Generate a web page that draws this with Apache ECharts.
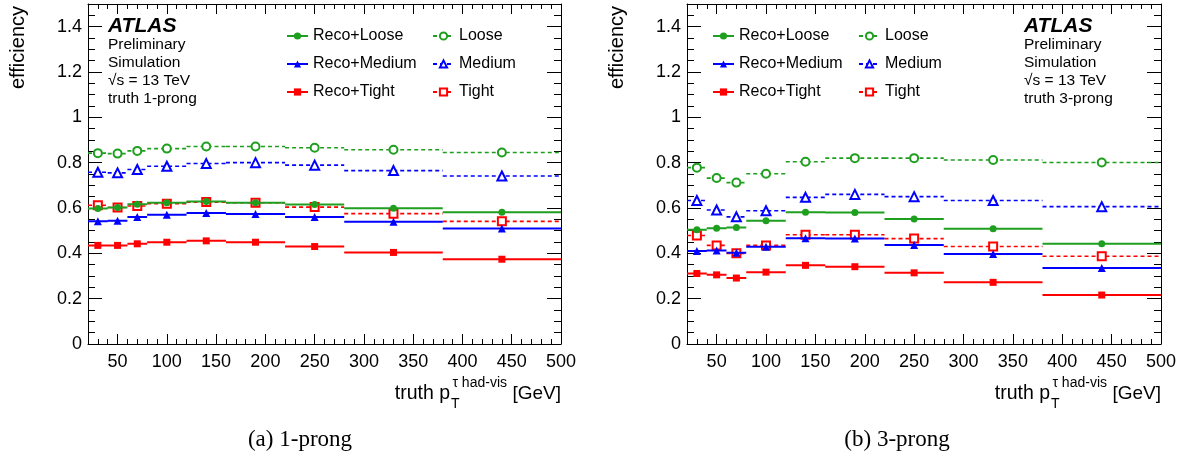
<!DOCTYPE html>
<html>
<head>
<meta charset="utf-8">
<script src="https://cdn.jsdelivr.net/npm/echarts@6/dist/echarts.min.js"></script>
<style>
  html, body { margin: 0; padding: 0; background: #fff; }
  #chart { width: 1191px; height: 461px; }
</style>
</head>
<body>
<div id="chart"></div>
<script>
// Truth visible pT bins of the hadronic tau [GeV]
const binEdges = [20, 40, 60, 80, 120, 160, 220, 280, 380, 500];

// Axis ticks
const xMajorTicks = [50, 100, 150, 200, 250, 300, 350, 400, 450, 500];
const xMinorTicks = [30, 40, 60, 70, 80, 90, 110, 120, 130, 140, 160, 170, 180, 190,
  210, 220, 230, 240, 260, 270, 280, 290, 310, 320, 330, 340, 360, 370, 380, 390,
  410, 420, 430, 440, 460, 470, 480, 490];
const yMajorTicks = [0, 0.2, 0.4, 0.6, 0.8, 1, 1.2, 1.4];
const yMinorTicks = [0.05, 0.1, 0.15, 0.25, 0.3, 0.35, 0.45, 0.5, 0.55, 0.65, 0.7, 0.75,
  0.85, 0.9, 0.95, 1.05, 1.1, 1.15, 1.25, 1.3, 1.35, 1.45];

// Efficiencies, truth 1-prong
const p1RecoLoose  = [0.598, 0.602, 0.616, 0.623, 0.629, 0.623, 0.615, 0.599, 0.581];
const p1RecoMedium = [0.541, 0.544, 0.560, 0.570, 0.578, 0.574, 0.560, 0.539, 0.510];
const p1RecoTight  = [0.435, 0.435, 0.442, 0.449, 0.455, 0.449, 0.430, 0.404, 0.374];
const p1Loose      = [0.842, 0.840, 0.852, 0.862, 0.871, 0.871, 0.866, 0.857, 0.845];
const p1Medium     = [0.758, 0.755, 0.770, 0.784, 0.796, 0.800, 0.789, 0.765, 0.741];
const p1Tight      = [0.612, 0.602, 0.609, 0.619, 0.626, 0.623, 0.604, 0.575, 0.541];

// Efficiencies, truth 3-prong
const p3RecoLoose  = [0.504, 0.511, 0.514, 0.544, 0.581, 0.580, 0.551, 0.509, 0.442];
const p3RecoMedium = [0.410, 0.413, 0.403, 0.429, 0.466, 0.465, 0.437, 0.397, 0.335];
const p3RecoTight  = [0.311, 0.305, 0.291, 0.317, 0.347, 0.341, 0.314, 0.272, 0.216];
const p3Loose      = [0.778, 0.732, 0.712, 0.751, 0.804, 0.820, 0.820, 0.812, 0.801];
const p3Medium     = [0.633, 0.591, 0.561, 0.588, 0.647, 0.660, 0.650, 0.633, 0.606];
const p3Tight      = [0.479, 0.435, 0.400, 0.435, 0.482, 0.482, 0.465, 0.430, 0.387];

const FONT = 'Liberation Sans';
const GREEN = '#1f9f1f';
const BLUE = '#0000ff';
const RED = '#ff0000';

const panels = [
  { left: 88, width: 473, label: 'truth 1-prong', textX: 108, caption: '(a) 1-prong', captionX: 300,
    data: [p1RecoLoose, p1RecoMedium, p1RecoTight, p1Loose, p1Medium, p1Tight] },
  { left: 687, width: 474, label: 'truth 3-prong', textX: 1024, caption: '(b) 3-prong', captionX: 897,
    data: [p3RecoLoose, p3RecoMedium, p3RecoTight, p3Loose, p3Medium, p3Tight] }
];
const GRID_TOP = 4, GRID_H = 340;

// Horizontal bar per bin with the marker at the bin centre; bins are not joined.
function binnedPoints(vals) {
  const pts = [];
  vals.forEach((v, i) => {
    const lo = binEdges[i], hi = binEdges[i + 1];
    pts.push({ value: [lo, v], symbol: 'none' });
    pts.push({ value: [(lo + hi) / 2, v] });
    pts.push({ value: [hi, v], symbol: 'none' });
    pts.push({ value: [hi, '-'], symbol: 'none' });
  });
  return pts;
}

const styles = [
  { name: 'Reco+Loose',  color: GREEN, symbol: 'circle',        size: 7,  dashed: false },
  { name: 'Reco+Medium', color: BLUE,  symbol: 'triangle',      size: 8,  dashed: false },
  { name: 'Reco+Tight',  color: RED,   symbol: 'rect',          size: 7,  dashed: false },
  { name: 'Loose',       color: GREEN, symbol: 'emptyCircle',   size: 8,  dashed: true },
  { name: 'Medium',      color: BLUE,  symbol: 'emptyTriangle', size: 9,  dashed: true },
  { name: 'Tight',       color: RED,   symbol: 'emptyRect',     size: 8,  dashed: true }
];

const grid = [], xAxis = [], yAxis = [], series = [], legend = [], graphic = [];

function tickAxis(kind, gi, position, values, len, main, labels) {
  return {
    type: 'value', gridIndex: gi, position: position,
    min: kind === 'x' ? 20 : 0, max: kind === 'x' ? 500 : 1.5,
    splitLine: { show: false },
    axisLine: { show: main, onZero: false, lineStyle: { color: '#000', width: 1 } },
    axisTick: { show: true, inside: true, length: len, customValues: values,
      lineStyle: { color: '#000', width: 1 } },
    axisLabel: labels ? {
      show: true, customValues: values, fontFamily: FONT, fontSize: 18, color: '#000',
      margin: kind === 'x' ? 9 : 6
    } : { show: false },
    silent: true
  };
}

panels.forEach((p, gi) => {
  grid.push({ left: p.left, top: GRID_TOP, width: p.width, height: GRID_H });

  const xb = xAxis.length, yb = yAxis.length;
  xAxis.push(tickAxis('x', gi, 'bottom', xMajorTicks, 10, true, true));
  xAxis.push(tickAxis('x', gi, 'bottom', xMinorTicks, 5, false, false));
  xAxis.push(tickAxis('x', gi, 'top', xMajorTicks, 10, true, false));
  xAxis.push(tickAxis('x', gi, 'top', xMinorTicks, 5, false, false));
  yAxis.push(tickAxis('y', gi, 'left', yMajorTicks, 14, true, true));
  yAxis.push(tickAxis('y', gi, 'left', yMinorTicks, 7, false, false));
  yAxis.push(tickAxis('y', gi, 'right', yMajorTicks, 14, true, false));
  yAxis.push(tickAxis('y', gi, 'right', yMinorTicks, 7, false, false));

  styles.forEach((s, k) => {
    series.push({
      type: 'line', name: s.name, xAxisIndex: xb, yAxisIndex: yb,
      data: binnedPoints(p.data[k]),
      symbol: s.symbol, symbolSize: s.size, showSymbol: true, connectNulls: false,
      lineStyle: { color: s.color, width: s.dashed ? 1.6 : 2, type: s.dashed ? [4, 3] : 'solid' },
      itemStyle: { color: s.color, borderWidth: 1.3 },
      emphasis: { disabled: true }, animation: false, z: 10 - k
    });
  });
});

// Legends: two columns per panel
const legendCols = [
  { left: 286, names: ['Reco+Loose', 'Reco+Medium', 'Reco+Tight'] },
  { left: 432, names: ['Loose', 'Medium', 'Tight'] },
  { left: 712, names: ['Reco+Loose', 'Reco+Medium', 'Reco+Tight'] },
  { left: 858, names: ['Loose', 'Medium', 'Tight'] }
];
legendCols.forEach(c => legend.push({
  left: c.left, top: 28, orient: 'vertical', padding: 0,
  data: c.names, itemWidth: 21, itemHeight: 9, itemGap: 12,
  selectedMode: false,
  textStyle: { fontFamily: FONT, fontSize: 16, color: '#000' }
}));

// ATLAS labels, axis titles, captions
function txt(x, y, text, size, style, rotation) {
  return {
    type: 'text', x: x, y: y, silent: true, rotation: rotation || 0,
    style: Object.assign({ text: text, fontFamily: FONT, fontSize: size, fill: '#000',
      textAlign: 'left', textVerticalAlign: 'middle' }, style || {})
  };
}

panels.forEach(p => {
  const tx = p.textX;
  graphic.push(txt(tx, 26, 'ATLAS', 21, { fontWeight: 'bold', fontStyle: 'italic' }));
  graphic.push(txt(tx, 45, 'Preliminary', 15.5));
  graphic.push(txt(tx, 63, 'Simulation', 15.5));
  graphic.push(txt(tx, 81, '\u221As = 13 TeV', 15.5));
  graphic.push(txt(tx, 99, p.label, 15.5));

  const right = p.left + p.width;
  graphic.push(txt(right, 394, '[GeV]', 19, { textAlign: 'right' }));
  graphic.push(txt(right - 54, 383, '\u03C4 had-vis', 14, { textAlign: 'right' }));
  graphic.push(txt(right - 110, 404, 'T', 14));
  graphic.push(txt(right - 111, 394, 'truth p', 19.5, { textAlign: 'right' }));

  graphic.push(txt(p.left - 70, 6, 'efficiency', 20, { textAlign: 'right' }, Math.PI / 2));

  graphic.push(txt(p.captionX, 440, p.caption, 23,
    { fontFamily: 'Liberation Serif', textAlign: 'center' }));
});

const chart = echarts.init(document.getElementById('chart'), null, { renderer: 'canvas' });
chart.setOption({
  backgroundColor: '#fff',
  animation: false,
  textStyle: { fontFamily: FONT },
  grid: grid, xAxis: xAxis, yAxis: yAxis, series: series, legend: legend, graphic: graphic
});
</script>
</body>
</html>
